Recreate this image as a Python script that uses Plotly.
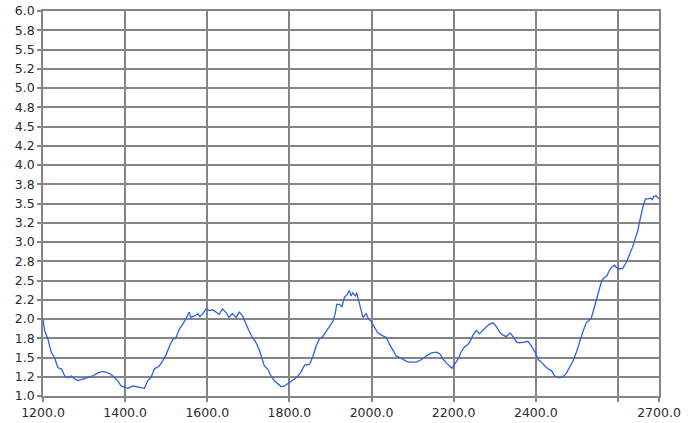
import plotly.graph_objects as go

# Data
x_values = [
    1200, 1204, 1212, 1220, 1228, 1236, 1245, 1253, 1261, 1269, 1277, 1285, 1297, 1309,
    1321, 1334, 1346, 1358, 1366, 1374, 1382, 1390, 1398, 1407, 1419, 1427, 1439, 1447,
    1455, 1463, 1471, 1483, 1492, 1500, 1508, 1516, 1524, 1532, 1540, 1548, 1556, 1560,
    1569, 1577, 1582, 1589, 1597, 1605, 1613, 1621, 1629, 1637, 1645, 1653, 1661, 1670,
    1678, 1686, 1694, 1702, 1710, 1719, 1727, 1739, 1747, 1755, 1763, 1772, 1780, 1788,
    1796, 1808, 1820, 1828, 1837, 1849, 1857, 1865, 1873, 1881, 1893, 1906, 1912, 1915,
    1922, 1928, 1934, 1941, 1946, 1950, 1954, 1961, 1964, 1969, 1975, 1979, 1987, 1993,
    1999, 2007, 2015, 2024, 2036, 2044, 2052, 2060, 2072, 2085, 2093, 2109, 2121, 2133,
    2146, 2158, 2166, 2174, 2182, 2190, 2196, 2202, 2211, 2219, 2227, 2235, 2239, 2247,
    2255, 2263, 2276, 2286, 2296, 2304, 2312, 2320, 2328, 2337, 2345, 2353, 2361, 2373,
    2381, 2389, 2398, 2406, 2414, 2422, 2430, 2438, 2446, 2457, 2466, 2474, 2483, 2491,
    2499, 2507, 2515, 2523, 2535, 2541, 2547, 2554, 2560, 2565, 2573, 2580, 2586, 2592,
    2596, 2604, 2612, 2620, 2628, 2636, 2643, 2648, 2653, 2657, 2662, 2667, 2673, 2679,
    2684, 2687, 2693, 2700,
]
y_values = [
    2.00, 1.85, 1.74, 1.57, 1.50, 1.37, 1.35, 1.26, 1.24, 1.26, 1.22, 1.20, 1.22, 1.24,
    1.26, 1.30, 1.32, 1.30, 1.28, 1.24, 1.20, 1.13, 1.12, 1.10, 1.13, 1.12, 1.10, 1.10,
    1.20, 1.24, 1.35, 1.39, 1.46, 1.54, 1.65, 1.73, 1.76, 1.87, 1.93, 2.00, 2.09, 2.02,
    2.04, 2.07, 2.03, 2.07, 2.13, 2.11, 2.12, 2.09, 2.06, 2.13, 2.09, 2.02, 2.07, 2.02,
    2.09, 2.04, 1.93, 1.84, 1.76, 1.69, 1.59, 1.39, 1.35, 1.26, 1.20, 1.155, 1.12, 1.13,
    1.16, 1.20, 1.25, 1.31, 1.40, 1.41, 1.51, 1.65, 1.74, 1.77, 1.87, 1.97, 2.08, 2.19,
    2.19, 2.16, 2.28, 2.32, 2.37, 2.30, 2.34, 2.30, 2.34, 2.23, 2.10, 2.02, 2.07, 2.00,
    1.97, 1.89, 1.82, 1.79, 1.76, 1.67, 1.59, 1.52, 1.49, 1.45, 1.44, 1.44, 1.47, 1.52,
    1.56, 1.57, 1.55, 1.48, 1.43, 1.39, 1.36, 1.41, 1.48, 1.58, 1.64, 1.67, 1.70, 1.79,
    1.85, 1.81, 1.88, 1.93, 1.95, 1.90, 1.83, 1.79, 1.77, 1.82, 1.77, 1.70, 1.69, 1.70,
    1.71, 1.65, 1.57, 1.47, 1.44, 1.39, 1.35, 1.33, 1.26, 1.235, 1.25, 1.29, 1.38, 1.46,
    1.57, 1.71, 1.84, 1.95, 2.01, 2.12, 2.23, 2.36, 2.49, 2.53, 2.56, 2.64, 2.68, 2.70,
    2.67, 2.65, 2.66, 2.73, 2.83, 2.94, 3.06, 3.14, 3.27, 3.37, 3.48, 3.56, 3.56, 3.57,
    3.55, 3.59, 3.60, 3.56,
]

x_tick_values = [1200, 1400, 1600, 1800, 2000, 2200, 2400, 2600, 2700]
x_tick_labels = ["1200.0", "1400.0", "1600.0", "1800.0", "2000.0", "2200.0", "2400.0", "", "2700.0"]
y_tick_values = [1.0 + 0.25 * i for i in range(21)]
y_tick_labels = ["1.0", "1.2", "1.5", "1.8", "2.0", "2.2", "2.5", "2.8", "3.0", "3.2", "3.5",
                 "3.8", "4.0", "4.2", "4.5", "4.8", "5.0", "5.2", "5.5", "5.8", "6.0"]

fig = go.Figure()
fig.add_trace(go.Scatter(
    x=x_values, y=y_values, mode="lines",
    line=dict(color="#2c62e6", width=1.3),
    hoverinfo="x+y", showlegend=False,
))

axis_common = dict(
    automargin=False,
    showgrid=True, gridcolor="#858585", gridwidth=1.5,
    showline=True, linecolor="#858585", linewidth=1.5, mirror=True,
    ticks="outside", ticklen=4, tickcolor="#858585", tickwidth=1.5,
    zeroline=False,
    tickfont=dict(family="DejaVu Sans", size=12.5, color="#2a2a2a"),
)

fig.update_layout(
    width=699, height=423,
    margin=dict(l=43, r=40, t=11, b=27, pad=0),
    paper_bgcolor="white", plot_bgcolor="white",
    xaxis=dict(range=[1200, 2700], tickmode="array", tickvals=x_tick_values,
               ticktext=x_tick_labels, **axis_common),
    yaxis=dict(range=[1.0, 6.0], tickmode="array", tickvals=y_tick_values,
               ticktext=y_tick_labels, **axis_common),
)

# Remove the page's default body margin so the figure fills the window exactly
fig.write_html(
    "out.html",
    config={"displayModeBar": False},
    post_script="document.body.style.margin='0';document.body.style.overflow='hidden';",
)
